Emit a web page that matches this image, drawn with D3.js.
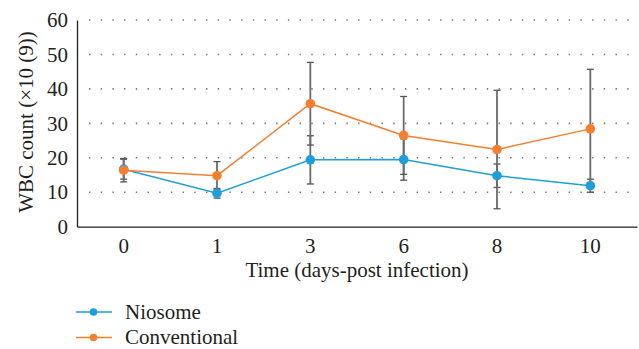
<!DOCTYPE html>
<html><head><meta charset="utf-8">
<script src="https://cdn.jsdelivr.net/npm/d3@7"></script>
<style>
html,body{margin:0;padding:0;background:#fff;}
svg{display:block;}
</style></head>
<body>
<script>
const categories = ["0","1","3","6","8","10"];
const yTicks = [0,10,20,30,40,50,60];
const niosome = [16.7, 9.7, 19.4, 19.5, 14.8, 11.9];
const niosomeErr = [2.9, 1.4, 7.0, 6.0, 3.4, 1.9];
const conventional = [16.4, 14.8, 35.7, 26.5, 22.4, 28.4];
const conventionalErr = [3.4, 4.1, 12.0, 11.3, 17.2, 17.3];
const seriesNames = ["Niosome","Conventional"];
const xTitle = "Time (days-post infection)";
const yTitle = "WBC count (\u00d710 (9))";

const W = 639, H = 349;
const FONT = "Liberation Serif, Tinos, Times New Roman, serif";
const FS = 21;
const TXT = "#231f20";
const colors = ["#1f9ed9","#f57f2f"];
const svg = d3.select("body").append("svg").attr("width",W).attr("height",H)
  .attr("font-family",FONT);

const x = d3.scaleBand().domain(categories).range([77,637]).padding(0);
const y = d3.scaleLinear().domain([0,60]).range([226.7,20]);
const cx = c => x(c) + x.bandwidth()/2;

// gridlines (dotted)
svg.append("g").selectAll("line").data(yTicks.filter(d=>d>0)).join("line")
  .attr("x1",89).attr("x2",634).attr("y1",d=>y(d)).attr("y2",d=>y(d))
  .attr("stroke","#777").attr("stroke-width",1.6)
  .attr("stroke-dasharray","1.4,10.3");

// axes
const yAxis = d3.axisLeft(y).tickValues(yTicks).tickSize(0).tickPadding(9);
const gy = svg.append("g").attr("transform","translate(77,0)").call(yAxis)
  .attr("font-family",FONT).attr("font-size",FS);
gy.select(".domain").attr("stroke",TXT).attr("stroke-width",1.3);
gy.selectAll("text").attr("fill",TXT);

const xAxis = d3.axisBottom(x).tickSize(0).tickPadding(11);
const gx = svg.append("g").attr("transform","translate(0,226.7)").call(xAxis)
  .attr("font-family",FONT).attr("font-size",FS);
gx.select(".domain").attr("stroke",TXT).attr("stroke-width",1.3);
gx.selectAll("text").attr("fill",TXT);

svg.append("text").attr("x",357).attr("y",277).attr("text-anchor","middle")
  .attr("font-size",FS).attr("fill",TXT).text(xTitle);
svg.append("text").attr("transform","translate(33,122) rotate(-90)")
  .attr("text-anchor","middle").attr("font-size",FS).attr("fill",TXT).text(yTitle);

const series = [
  {name:seriesNames[0], vals:niosome, err:niosomeErr, color:colors[0]},
  {name:seriesNames[1], vals:conventional, err:conventionalErr, color:colors[1]}
];

// error bars
series.forEach(s=>{
  const g = svg.append("g");
  categories.forEach((c,i)=>{
    const lo = y(s.vals[i]-s.err[i]), hi = y(s.vals[i]+s.err[i]);
    g.append("line").attr("x1",cx(c)).attr("x2",cx(c)).attr("y1",lo).attr("y2",hi)
      .attr("stroke","#6b6b6b").attr("stroke-width",1.8);
    [lo,hi].forEach(v=>g.append("line").attr("x1",cx(c)-3.5).attr("x2",cx(c)+3.5)
      .attr("y1",v).attr("y2",v).attr("stroke","#555").attr("stroke-width",1.3));
  });
});

const line = d3.line().x((d,i)=>cx(categories[i])).y(d=>y(d));
series.forEach(s=>{
  svg.append("path").datum(s.vals).attr("d",line).attr("fill","none")
    .attr("stroke",s.color).attr("stroke-width",1.5);
});
series.forEach(s=>{
  svg.append("g").selectAll("circle").data(s.vals).join("circle")
    .attr("cx",(d,i)=>cx(categories[i])).attr("cy",d=>y(d)).attr("r",4.8)
    .attr("fill",s.color);
});

// legend
const leg = svg.append("g");
series.forEach((s,i)=>{
  const ly = 312 + i*25.5;
  leg.append("line").attr("x1",76).attr("x2",112).attr("y1",ly).attr("y2",ly)
    .attr("stroke",s.color).attr("stroke-width",1.5);
  leg.append("circle").attr("cx",93.5).attr("cy",ly).attr("r",3.8).attr("fill",s.color);
  leg.append("text").attr("x",125).attr("y",ly+6.5).attr("font-size",FS)
    .attr("fill",TXT).text(s.name);
});
</script>
</body></html>
